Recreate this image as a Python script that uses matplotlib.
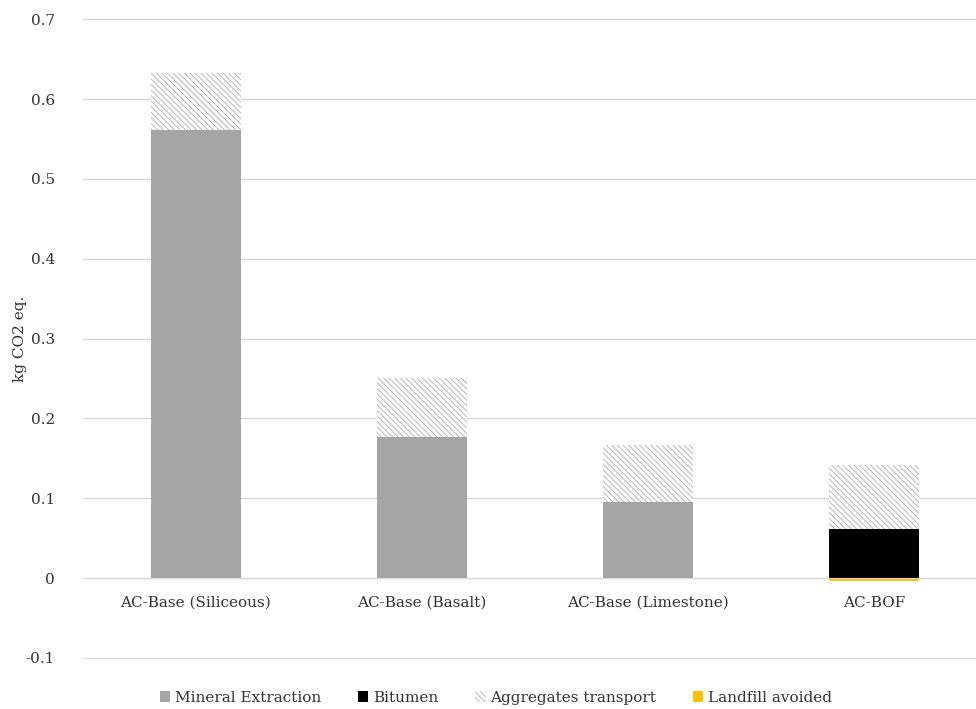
import numpy as np
import matplotlib.pyplot as plt

plt.rcParams['font.family'] = ['DejaVu Serif', 'Liberation Serif']
plt.rcParams['hatch.color'] = '#b8b8b8'
plt.rcParams['hatch.linewidth'] = 0.7

categories = ['AC-Base (Siliceous)', 'AC-Base (Basalt)', 'AC-Base (Limestone)', 'AC-BOF']
mineral_extraction = np.array([0.561, 0.177, 0.095, 0.0])
bitumen = np.array([0.0, 0.0, 0.0, 0.061])
aggregates_transport = np.array([0.072, 0.073, 0.072, 0.081])
landfill_avoided = np.array([0.0, 0.0, 0.0, -0.004])

x = np.arange(len(categories))
width = 0.40

fig = plt.figure(figsize=(9.76, 7.09), dpi=100)
ax = fig.add_axes([0.085, 0.0705, 0.926, 0.904])

ax.bar(x, mineral_extraction, width, color='#a5a5a5', label='Mineral Extraction', zorder=2)
ax.bar(x, bitumen, width, bottom=mineral_extraction, color='#000000', label='Bitumen', zorder=2)
ax.bar(x, aggregates_transport, width, bottom=mineral_extraction + bitumen,
       color='white', hatch='\\\\\\\\\\\\', edgecolor='#b8b8b8', linewidth=0,
       label='Aggregates transport', zorder=2)
ax.bar(x, landfill_avoided, width, color='#ffc000', label='Landfill avoided', zorder=2)

ax.set_xlim(-0.5, len(categories) - 0.5)
ax.set_ylim(-0.1015, 0.7015)
ax.set_yticks(np.arange(-0.1, 0.71, 0.1))
ax.set_yticklabels(['-0.1', '0', '0.1', '0.2', '0.3', '0.4', '0.5', '0.6', '0.7'])
ax.set_xticks(x)
ax.set_xticklabels(categories)
ax.yaxis.grid(True, color='#d9d9d9', linewidth=1, zorder=0)
ax.set_axisbelow(True)

for side in ['top', 'right', 'left']:
    ax.spines[side].set_visible(False)
ax.spines['bottom'].set_position(('data', 0))
ax.spines['bottom'].set_color('#d9d9d9')
ax.tick_params(axis='both', length=0, labelsize=11, colors='#333333')
ax.tick_params(axis='y', pad=20)
ax.tick_params(axis='x', pad=13)

ax.set_ylabel('kg CO2 eq.', fontsize=11, color='#333333')
ax.yaxis.set_label_coords(-0.062, 0.5)

fig.legend(loc='center', bbox_to_anchor=(0.508, 0.0155), ncol=4, frameon=False,
           fontsize=11, handlelength=0.7, handleheight=0.7, handletextpad=0.3,
           columnspacing=2.4, labelcolor='#333333')

fig.savefig('out.png', dpi=100)
